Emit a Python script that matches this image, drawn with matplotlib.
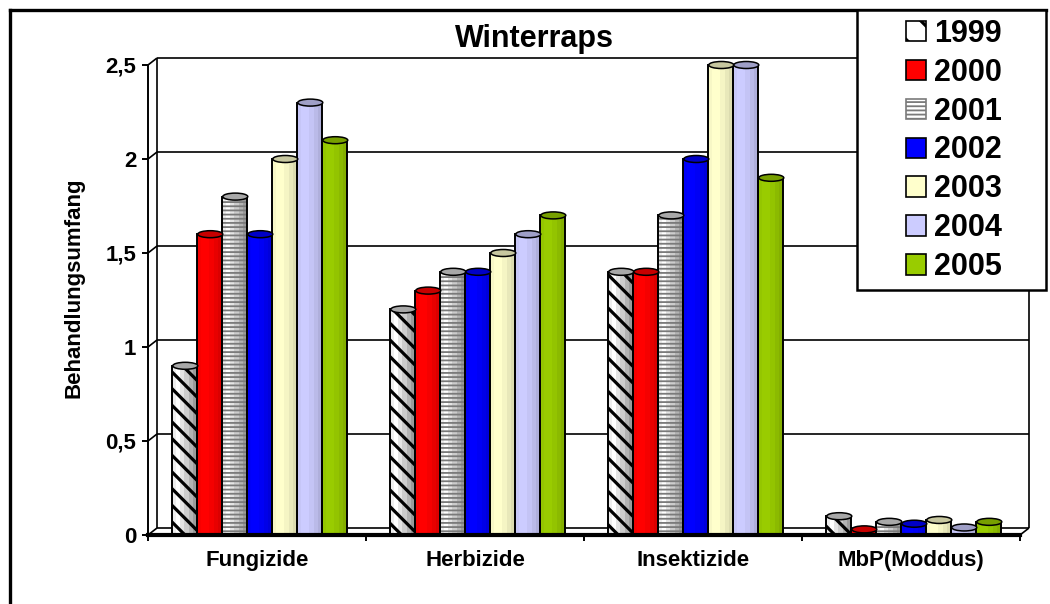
import matplotlib
matplotlib.use("Agg")
import matplotlib.pyplot as plt
import matplotlib.colors as mcolors
from matplotlib.patches import Rectangle, Ellipse, Patch
import numpy as np

plt.rcParams['font.family'] = ['Liberation Sans', 'DejaVu Sans']

# ---- data -------------------------------------------------------------
categories = ['Fungizide', 'Herbizide', 'Insektizide', 'MbP(Moddus)']
years = ['1999', '2000', '2001', '2002', '2003', '2004', '2005']

v1999 = [0.9, 1.2, 1.4, 0.10]
v2000 = [1.6, 1.3, 1.4, 0.03]
v2001 = [1.8, 1.4, 1.7, 0.07]
v2002 = [1.6, 1.4, 2.0, 0.06]
v2003 = [2.0, 1.5, 2.5, 0.08]
v2004 = [2.3, 1.6, 2.5, 0.04]
v2005 = [2.1, 1.7, 1.9, 0.07]
values = [v1999, v2000, v2001, v2002, v2003, v2004, v2005]

yticks = [0, 0.5, 1, 1.5, 2, 2.5]
ytick_labels = ['0', '0,5', '1', '1,5', '2', '2,5']

title = 'Winterraps'
ylabel = 'Behandlungsumfang'

# ---- styles -----------------------------------------------------------
base_colors = ['#FFFFFF', '#FF0000', '#FFFFFF', '#0000FF', '#FFFFCC', '#CCCCFF', '#99CC00']
hatches = ['\\\\', None, '----', None, None, None, None]
hatch_colors = ['black', None, '#7A7A7A', None, None, None, None]
hatch_widths = [2.3, 0, 1.3, 0, 0, 0, 0]

shade_factors = [0.97, 1.0, 1.0, 0.96, 0.91, 0.86]
grey_ramp = ['#EEEEEE', '#FFFFFF', '#E4E4E4', '#CCCCCC', '#B2B2B2', '#9A9A9A']


def ramp(color):
    if color.upper() == '#FFFFFF':
        return grey_ramp
    rgb = np.array(mcolors.to_rgb(color))
    return [tuple(np.clip(rgb * f, 0, 1)) for f in shade_factors]


def cap_color(color):
    if color.upper() == '#FFFFFF':
        return '#A8A8A8'
    rgb = np.array(mcolors.to_rgb(color))
    return tuple(np.clip(rgb * 0.78, 0, 1))


W, H = 1050, 604
fig = plt.figure(figsize=(W / 100, H / 100), dpi=100)
fig.patch.set_facecolor('white')

# front plane of the plot: x 148..1020 px, y 65..535 px (from top)
ax = fig.add_axes([148 / W, (H - 535) / H, 872 / W, 470 / H])
ax.set_xlim(0, 4)
ax.set_ylim(0, 2.5)
ax.set_facecolor('none')

# depth offset of the back wall (in data units)
dx = 9 / 218
dy = 7 / 188

# back wall, gridlines and floor
lkw = dict(color='black', lw=1.2, zorder=1, clip_on=False, solid_capstyle='butt')
for t in yticks:
    ax.plot([dx, 4 + dx], [t + dy, t + dy], **lkw)
    ax.plot([0, dx], [t, t + dy], **lkw)
ax.plot([dx, dx], [dy, 2.5 + dy], **lkw)
ax.plot([4 + dx, 4 + dx], [dy, 2.5 + dy], **lkw)
ax.plot([4, 4 + dx], [0, dy], **lkw)

# bars
n_series = len(years)
bw = 25 / 218
group_center = 0.511
cap_h = 7 / 188
n_strips = len(shade_factors)

for k, (vals, col) in enumerate(zip(values, base_colors)):
    xc = np.arange(len(categories)) + group_center + (k - (n_series - 1) / 2) * bw
    xl = xc - bw / 2
    for s, c in enumerate(ramp(col)):
        ax.bar(xl + s * bw / n_strips, vals, width=bw / n_strips + 0.0005,
               align='edge', color=c, linewidth=0, zorder=3, clip_on=False)
    if hatches[k]:
        with plt.rc_context({'hatch.linewidth': hatch_widths[k]}):
            hb = ax.bar(xc, vals, width=bw, fill=False, hatch=hatches[k],
                        edgecolor=hatch_colors[k], linewidth=0, zorder=4, clip_on=False)
        for p in hb:
            try:
                p.set_hatch_linewidth(hatch_widths[k])
            except AttributeError:
                pass
    ax.bar(xc, vals, width=bw, fill=False, edgecolor='black', linewidth=1.4,
           zorder=5, clip_on=False)
    for x, v in zip(xc, vals):
        ax.add_patch(Ellipse((x + 0.004, v), bw, cap_h, facecolor=cap_color(col),
                             edgecolor='black', linewidth=1.1, zorder=6, clip_on=False))

# axes, ticks and labels
for side in ('top', 'right'):
    ax.spines[side].set_visible(False)
ax.spines['left'].set_linewidth(1.4)
ax.spines['bottom'].set_linewidth(3)
ax.spines['left'].set_zorder(10)
ax.spines['bottom'].set_zorder(10)

ax.set_yticks(yticks)
ax.set_yticklabels(ytick_labels, fontsize=16, fontweight='bold')
ax.tick_params(axis='y', length=4, width=1.4, pad=4.3)

ax.set_xticks(np.arange(len(categories) + 1))
ax.set_xticklabels([])
ax.tick_params(axis='x', which='major', length=4.5, width=1.4)
ax.set_xticks(np.arange(len(categories)) + 0.5, minor=True)
ax.set_xticklabels(categories, minor=True, fontsize=16, fontweight='bold')
ax.tick_params(axis='x', which='minor', length=0, pad=11)

fig.text(534 / W, 1 - 47 / H, title, ha='center', va='baseline',
         fontsize=22, fontweight='bold')
fig.text(74 / W, 1 - 288 / H, ylabel, ha='center', va='center', rotation=90,
         fontsize=16, fontweight='bold')

# outer frame (left and top edges)
fig.add_artist(plt.Line2D([10 / W, 10 / W], [0, 1 - 10 / H], color='black', lw=2.4,
                          transform=fig.transFigure))
fig.add_artist(plt.Line2D([10 / W, 1046 / W], [1 - 10 / H, 1 - 10 / H], color='black',
                          lw=2.4, transform=fig.transFigure))

# legend box
fig.add_artist(Rectangle((857 / W, 1 - 290 / H), 189 / W, 280 / H,
                         transform=fig.transFigure, facecolor='white',
                         edgecolor='black', linewidth=1.8, zorder=20))
handles = []
for k, y in enumerate(years):
    handles.append(Patch(facecolor=base_colors[k],
                         edgecolor=hatch_colors[k] if hatches[k] else 'black',
                         hatch='\\' if k == 0 else hatches[k], linewidth=1.2, label=y))
leg = fig.legend(handles=handles, loc='center',
                 bbox_to_anchor=(954 / W, 1 - 150.5 / H),
                 frameon=False, prop=dict(size=22, weight='bold'),
                 handlelength=0.65, handleheight=0.65,
                 handletextpad=0.26, labelspacing=0.29, borderpad=0, borderaxespad=0)
leg.set_zorder(21)
for k, p in enumerate(leg.get_patches()):
    if hatches[k]:
        try:
            p.set_hatch_linewidth(hatch_widths[k])
        except AttributeError:
            pass

fig.savefig('out.png', dpi=100, facecolor='white')
